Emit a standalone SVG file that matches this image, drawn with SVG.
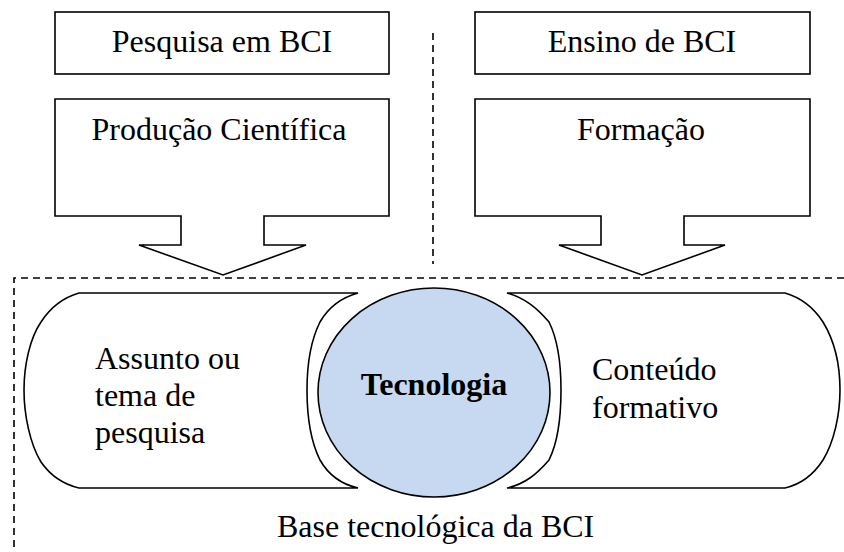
<svg xmlns="http://www.w3.org/2000/svg" width="844" height="552" viewBox="0 0 844 552">
<style>
.box{fill:#fff;stroke:#000;stroke-width:1.6}
.dash{fill:none;stroke:#000;stroke-width:1.6;stroke-dasharray:7,5}
.t{font-family:"Liberation Serif","Times New Roman",serif;font-size:32px;fill:#000}
.c{text-anchor:middle}
.b{font-weight:bold}
</style>
<rect width="844" height="552" fill="#fff"/>
<g id="connectors">
<line class="dash" x1="433" y1="33" x2="433" y2="264"/>
<polyline class="dash" points="844,278 14,278 14,552"/>
</g>
<g id="pesquisa">
<rect class="box" x="55" y="12" width="334" height="62"/>
<text class="t c" x="222" y="52">Pesquisa em BCI</text>
</g>
<g id="ensino">
<rect class="box" x="475" y="12" width="335" height="62"/>
<text class="t c" x="642" y="52">Ensino de BCI</text>
</g>
<g id="producao">
<path class="box" d="M55,99 H389 V216 H264 V245 H306 L223,275 L139,245 H181 V216 H55 Z"/>
<text class="t c" x="219" y="140">Produção Científica</text>
</g>
<g id="formacao">
<path class="box" d="M475,99 H810 V216 H684 V245 H725 L642,275 L559,245 H601 V216 H475 Z"/>
<text class="t c" x="641" y="140">Formação</text>
</g>
<g id="assunto">
<path class="box" d="M79,293 H358 C340,298 328,308 320,322 C311,340 307,365 307,390 C307,415 311,442 320,460 C328,474 340,484 358,488 H79 C62,484 50,475 41,462 C30,444 24,415 24,390 C24,365 30,338 41,322 C50,308 62,298 79,293 Z"/>
<text class="t" x="95" y="369">Assunto ou</text>
<text class="t" x="95" y="406">tema de</text>
<text class="t" x="95" y="443">pesquisa</text>
</g>
<g id="conteudo">
<path class="box" d="M507,293 H785 C802,298 814,308 823,322 C834,340 840,365 840,390 C840,415 834,442 823,460 C814,474 802,484 785,488 H507 C525,484 537,474 549,460 C558,442 561,415 561,390 C561,365 558,340 549,322 C537,308 525,298 507,293 Z"/>
<text class="t" x="592" y="380">Conteúdo</text>
<text class="t" x="592" y="418">formativo</text>
</g>
<g id="tecnologia">
<ellipse cx="434" cy="392.5" rx="116" ry="104.5" fill="#C6D9F1" stroke="#000" stroke-width="1.6"/>
<text class="t c b" x="434" y="395">Tecnologia</text>
</g>
<g id="base">
<text class="t" x="277" y="537">Base tecnológica da BCI</text>
</g>
</svg>
